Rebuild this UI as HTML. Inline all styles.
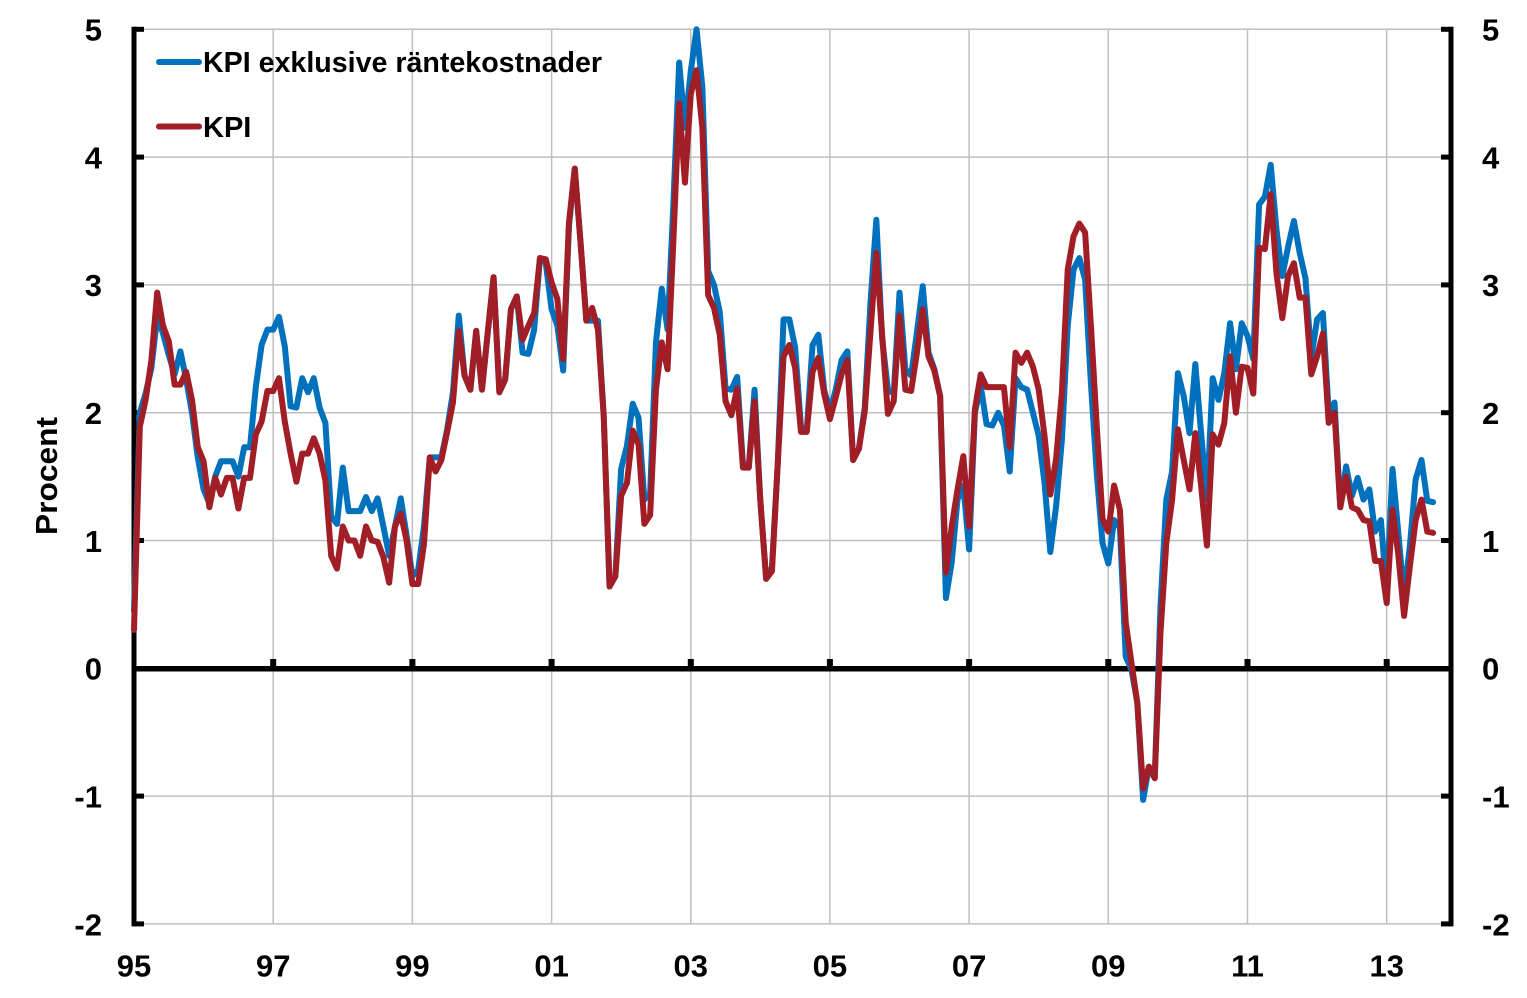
<!DOCTYPE html>
<html>
<head>
<meta charset="utf-8">
<style>
  html, body { margin: 0; padding: 0; background: #ffffff; }
  svg { display: block; }
  text { font-family: "Liberation Sans", Arial, sans-serif; font-weight: bold; fill: #000; }
</style>
</head>
<body>
<svg width="1527" height="998" viewBox="0 0 1527 998" xmlns="http://www.w3.org/2000/svg">
  <rect x="0" y="0" width="1527" height="998" fill="#ffffff"/>

  <!-- horizontal gridlines -->
  <g stroke="#BFBFBF" stroke-width="1.5">
    <line x1="134" y1="29.3" x2="1451" y2="29.3"/>
    <line x1="134" y1="157.1" x2="1451" y2="157.1"/>
    <line x1="134" y1="284.9" x2="1451" y2="284.9"/>
    <line x1="134" y1="412.7" x2="1451" y2="412.7"/>
    <line x1="134" y1="540.5" x2="1451" y2="540.5"/>
    <line x1="134" y1="796.1" x2="1451" y2="796.1"/>
    <line x1="134" y1="923.9" x2="1451" y2="923.9"/>
  </g>
  <!-- vertical gridlines -->
  <g stroke="#BFBFBF" stroke-width="1.5">
    <line x1="273.2" y1="29.3" x2="273.2" y2="923.9"/>
    <line x1="412.4" y1="29.3" x2="412.4" y2="923.9"/>
    <line x1="551.6" y1="29.3" x2="551.6" y2="923.9"/>
    <line x1="690.8" y1="29.3" x2="690.8" y2="923.9"/>
    <line x1="829.9" y1="29.3" x2="829.9" y2="923.9"/>
    <line x1="969.1" y1="29.3" x2="969.1" y2="923.9"/>
    <line x1="1108.3" y1="29.3" x2="1108.3" y2="923.9"/>
    <line x1="1247.5" y1="29.3" x2="1247.5" y2="923.9"/>
    <line x1="1386.7" y1="29.3" x2="1386.7" y2="923.9"/>
  </g>

  <!-- zero line -->
  <line x1="134" y1="668.8" x2="1451" y2="668.8" stroke="#000" stroke-width="5.5"/>
  <!-- zero line ticks -->
  <g fill="#000">
    <rect x="270.2" y="659" width="6" height="8"/>
    <rect x="409.4" y="659" width="6" height="8"/>
    <rect x="548.6" y="659" width="6" height="8"/>
    <rect x="687.8" y="659" width="6" height="8"/>
    <rect x="826.9" y="659" width="6" height="8"/>
    <rect x="966.1" y="659" width="6" height="8"/>
    <rect x="1105.3" y="659" width="6" height="8"/>
    <rect x="1244.5" y="659" width="6" height="8"/>
    <rect x="1383.7" y="659" width="6" height="8"/>
  </g>

  <!-- left axis -->
  <line x1="134" y1="26.8" x2="134" y2="926.4" stroke="#000" stroke-width="5"/>
  <g stroke="#000" stroke-width="5">
    <line x1="134" y1="29.3" x2="144" y2="29.3"/>
    <line x1="134" y1="157.1" x2="144" y2="157.1"/>
    <line x1="134" y1="284.9" x2="144" y2="284.9"/>
    <line x1="134" y1="412.7" x2="144" y2="412.7"/>
    <line x1="134" y1="540.5" x2="144" y2="540.5"/>
    <line x1="134" y1="796.1" x2="144" y2="796.1"/>
    <line x1="134" y1="923.9" x2="144" y2="923.9"/>
  </g>
  <!-- right axis -->
  <line x1="1451" y1="26.8" x2="1451" y2="926.4" stroke="#000" stroke-width="5"/>
  <g stroke="#000" stroke-width="5">
    <line x1="1441" y1="29.3" x2="1451" y2="29.3"/>
    <line x1="1441" y1="157.1" x2="1451" y2="157.1"/>
    <line x1="1441" y1="284.9" x2="1451" y2="284.9"/>
    <line x1="1441" y1="412.7" x2="1451" y2="412.7"/>
    <line x1="1441" y1="540.5" x2="1451" y2="540.5"/>
    <line x1="1441" y1="796.1" x2="1451" y2="796.1"/>
    <line x1="1441" y1="923.9" x2="1451" y2="923.9"/>
  </g>

  <!-- series -->
  <g transform="translate(134,668.3) scale(5.7995,-127.8)" fill="none" stroke-linejoin="round" stroke-linecap="round">
    <polyline vector-effect="non-scaling-stroke" stroke="#0071BC" stroke-width="6" points="
0,0.45 1,2.0 2,2.15 3,2.35 4,2.75 5,2.62 6,2.45 7,2.3 8,2.48 9,2.26 10,2.0 11,1.65 12,1.40 13,1.29 14,1.5 15,1.62 16,1.62 17,1.62 18,1.5 19,1.73 20,1.73 21,2.2 22,2.53 23,2.65 24,2.65 25,2.75 26,2.52 27,2.05 28,2.04 29,2.27 30,2.16 31,2.27 32,2.04 33,1.92 34,1.19 35,1.13 36,1.57 37,1.23 38,1.23 39,1.23 40,1.34 41,1.23 42,1.33 43,1.11 44,0.88 45,1.11 46,1.33 47,1.04 48,0.72 49,0.77 50,1.11 51,1.65 52,1.65 53,1.65 54,1.87 55,2.16 56,2.76 57,2.29 58,2.18 59,2.64 60,2.18 61,2.63 62,3.06 63,2.16 64,2.26 65,2.81 66,2.91 67,2.47 68,2.46 69,2.65 70,3.21 71,3.17 72,2.81 73,2.68 74,2.33 75,3.46 76,3.91 77,3.33 78,2.72 79,2.72 80,2.72 81,1.97 82,0.64 83,0.72 84,1.56 85,1.74 86,2.07 87,1.96 88,1.32 89,1.37 90,2.55 91,2.97 92,2.65 93,3.63 94,4.74 95,4.23 96,4.67 97,5.0 98,4.55 99,3.11 100,3.0 101,2.79 102,2.19 103,2.18 104,2.28 105,1.60 106,1.57 107,2.18 108,1.31 109,0.70 110,0.79 111,1.60 112,2.73 113,2.73 114,2.51 115,1.89 116,1.86 117,2.53 118,2.61 119,2.18 120,2.01 121,2.18 122,2.41 123,2.48 124,1.63 125,1.72 126,2.04 127,2.87 128,3.51 129,2.58 130,2.18 131,2.15 132,2.94 133,2.34 134,2.29 135,2.63 136,2.99 137,2.47 138,2.34 139,2.13 140,0.55 141,0.83 142,1.32 143,1.43 144,0.93 145,2.0 146,2.21 147,1.91 148,1.90 149,2.0 150,1.90 151,1.54 152,2.27 153,2.20 154,2.18 155,2.0 156,1.82 157,1.45 158,0.91 159,1.27 160,1.79 161,2.68 162,3.12 163,3.21 164,3.04 165,2.23 166,1.53 167,0.98 168,0.82 169,1.16 170,1.10 171,0.09 172,-0.01 173,-0.27 174,-1.03 175,-0.77 176,-0.86 177,0.49 178,1.32 179,1.54 180,2.31 181,2.13 182,1.84 183,2.38 184,1.84 185,1.32 186,2.27 187,2.10 188,2.31 189,2.70 190,2.34 191,2.70 192,2.60 193,2.42 194,3.63 195,3.69 196,3.94 197,3.43 198,3.07 199,3.30 200,3.50 201,3.25 202,3.05 203,2.43 204,2.73 205,2.78 206,2.0 207,2.08 208,1.26 209,1.58 210,1.35 211,1.49 212,1.32 213,1.40 214,1.07 215,1.16 216,0.59 217,1.56 218,1.06 219,0.56 220,0.96 221,1.48 222,1.63 223,1.31 224,1.30"/>
    <polyline vector-effect="non-scaling-stroke" stroke="#A11E26" stroke-width="6" points="
0,0.3 1,1.89 2,2.1 3,2.41 4,2.94 5,2.68 6,2.56 7,2.22 8,2.22 9,2.32 10,2.1 11,1.73 12,1.62 13,1.26 14,1.49 15,1.36 16,1.49 17,1.49 18,1.25 19,1.49 20,1.49 21,1.83 22,1.93 23,2.17 24,2.17 25,2.27 26,1.93 27,1.68 28,1.46 29,1.68 30,1.68 31,1.80 32,1.68 33,1.47 34,0.88 35,0.78 36,1.11 37,1.0 38,1.0 39,0.88 40,1.11 41,1.0 42,0.99 43,0.87 44,0.67 45,1.11 46,1.21 47,1.0 48,0.66 49,0.66 50,0.97 51,1.65 52,1.54 53,1.63 54,1.85 55,2.08 56,2.64 57,2.29 58,2.18 59,2.64 60,2.18 61,2.63 62,3.06 63,2.16 64,2.26 65,2.81 66,2.91 67,2.57 68,2.68 69,2.78 70,3.21 71,3.2 72,3.02 73,2.89 74,2.42 75,3.49 76,3.91 77,3.33 78,2.72 79,2.82 80,2.65 81,1.97 82,0.64 83,0.72 84,1.35 85,1.45 86,1.86 87,1.75 88,1.13 89,1.20 90,2.18 91,2.55 92,2.34 93,3.34 94,4.42 95,3.80 96,4.49 97,4.68 98,4.23 99,2.92 100,2.82 101,2.61 102,2.09 103,1.98 104,2.19 105,1.57 106,1.57 107,2.09 108,1.31 109,0.70 110,0.76 111,1.60 112,2.44 113,2.53 114,2.35 115,1.85 116,1.85 117,2.32 118,2.43 119,2.15 120,1.95 121,2.12 122,2.30 123,2.41 124,1.63 125,1.72 126,2.01 127,2.64 128,3.25 129,2.61 130,1.99 131,2.09 132,2.76 133,2.18 134,2.17 135,2.47 136,2.81 137,2.44 138,2.33 139,2.13 140,0.75 141,1.11 142,1.40 143,1.66 144,1.11 145,2.03 146,2.30 147,2.20 148,2.20 149,2.20 150,2.20 151,1.73 152,2.47 153,2.39 154,2.47 155,2.36 156,2.18 157,1.82 158,1.36 159,1.64 160,2.16 161,3.12 162,3.38 163,3.48 164,3.41 165,2.68 166,1.90 167,1.17 168,1.07 169,1.43 170,1.24 171,0.36 172,0.04 173,-0.27 174,-0.94 175,-0.77 176,-0.86 177,0.28 178,0.98 179,1.32 180,1.87 181,1.63 182,1.40 183,1.84 184,1.43 185,0.96 186,1.83 187,1.75 188,1.92 189,2.44 190,2.0 191,2.36 192,2.35 193,2.15 194,3.29 195,3.28 196,3.71 197,3.09 198,2.74 199,3.07 200,3.17 201,2.90 202,2.90 203,2.30 204,2.44 205,2.62 206,1.92 207,2.0 208,1.26 209,1.50 210,1.26 211,1.24 212,1.16 213,1.15 214,0.84 215,0.84 216,0.51 217,1.24 218,0.89 219,0.41 220,0.80 221,1.16 222,1.32 223,1.07 224,1.06"/>
  </g>

  <!-- left y labels -->
  <g font-size="31" text-anchor="end">
    <text x="102" y="40.5">5</text>
    <text x="102" y="168.5">4</text>
    <text x="102" y="296">3</text>
    <text x="102" y="424">2</text>
    <text x="102" y="552">1</text>
    <text x="102" y="679.5">0</text>
    <text x="102" y="807.5">-1</text>
    <text x="102" y="935.5">-2</text>
  </g>
  <!-- right y labels -->
  <g font-size="31" text-anchor="start">
    <text x="1482" y="40.5">5</text>
    <text x="1482" y="168.5">4</text>
    <text x="1482" y="296">3</text>
    <text x="1482" y="424">2</text>
    <text x="1482" y="552">1</text>
    <text x="1482" y="679.5">0</text>
    <text x="1482" y="807.5">-1</text>
    <text x="1482" y="935.5">-2</text>
  </g>
  <!-- x labels -->
  <g font-size="31" text-anchor="middle">
    <text x="134" y="976.5">95</text>
    <text x="273.2" y="976.5">97</text>
    <text x="412.4" y="976.5">99</text>
    <text x="551.6" y="976.5">01</text>
    <text x="690.8" y="976.5">03</text>
    <text x="829.9" y="976.5">05</text>
    <text x="969.1" y="976.5">07</text>
    <text x="1108.3" y="976.5">09</text>
    <text x="1247.5" y="976.5">11</text>
    <text x="1386.7" y="976.5">13</text>
  </g>

  <!-- y axis title -->
  <text x="0" y="0" font-size="31" text-anchor="middle" transform="translate(57,476) rotate(-90)" textLength="118" lengthAdjust="spacingAndGlyphs">Procent</text>

  <!-- legend -->
  <line x1="159" y1="62" x2="199" y2="62" stroke="#0071BC" stroke-width="6" stroke-linecap="round"/>
  <text x="203" y="72" font-size="29" textLength="399" lengthAdjust="spacingAndGlyphs">KPI exklusive räntekostnader</text>
  <line x1="159" y1="126.5" x2="199" y2="126.5" stroke="#A11E26" stroke-width="6" stroke-linecap="round"/>
  <text x="203" y="137" font-size="29">KPI</text>
</svg>
</body>
</html>
